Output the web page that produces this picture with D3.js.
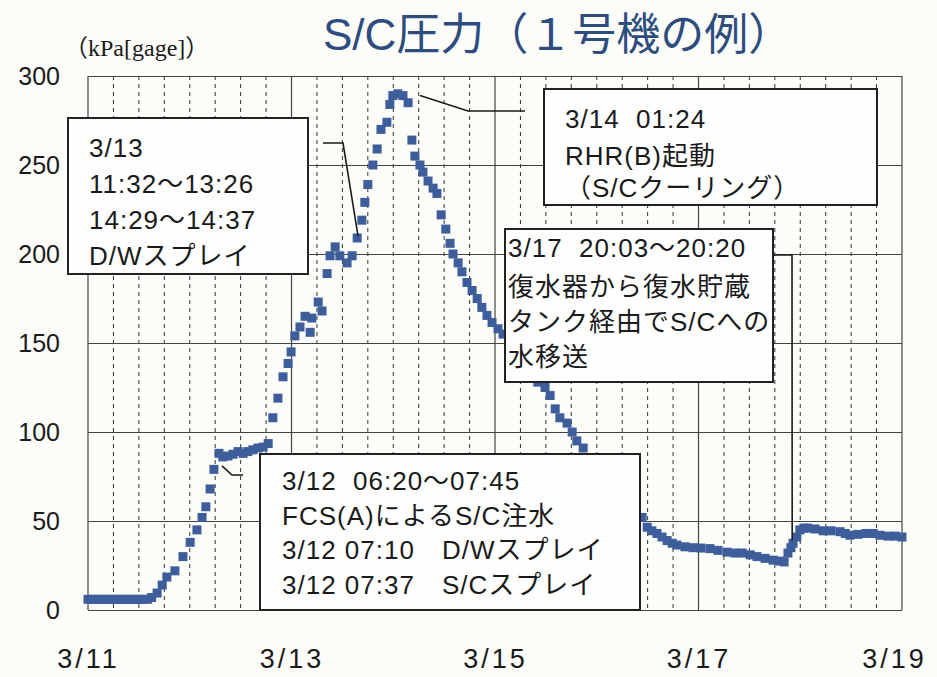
<!DOCTYPE html>
<html>
<head>
<meta charset="utf-8">
<script src="https://cdn.jsdelivr.net/npm/d3@7"></script>
<style>
  body { margin: 0; background: #fcfcf9; }
  svg { display: block; font-family: "Liberation Sans", "Noto Sans CJK JP", sans-serif; }
  text { white-space: pre; }
</style>
</head>
<body>
<div class="chart"></div>
<script>
// hours elapsed since 3/11 00:00, and S/C pressure (kPa gage)
const HOURS = [
  0, 1, 2, 3, 4, 5, 6, 7, 8, 9, 10, 11, 12, 13, 14, 15,
  16.3, 17.5, 18.6, 20.5, 22.4, 24.1, 25.7, 26.9, 27.8, 28.8, 29.7,
  30.9, 31.8, 33.0, 34.2, 35.4, 36.6, 37.7, 38.9, 40.1, 41.3, 42.5,
  43.6, 44.8, 46.0, 47.2, 47.9, 48.8, 50.0, 51.2, 52.4, 52.8, 54.3, 55.2,
  56.4, 57.1, 58.3, 59.4, 61.1, 62.3, 63.5, 64.6, 65.3, 66.0, 67.2, 68.2, 69.1,
  70.5, 71.2, 71.9, 73.1, 74.3, 75.5, 76.4, 77.1, 78.3, 79.0, 80.2, 81.4, 82.3,
  83.3, 84.4, 85.4, 86.1, 87.3, 88.2, 89.4, 90.6, 91.8, 92.9, 94.1, 95.3, 96.7,
  97.9, 99.5, 101.2, 102.8, 104.5, 106.1, 107.8, 109.0, 110.2, 111.3, 113.0,
  114.2, 115.3, 116.8, 118.9, 121.0, 123.1, 125.3, 127.4, 129.3, 130.7, 131.9,
  133.0, 134.2, 135.4, 136.6, 137.8, 138.9, 140.8, 142.7, 144.6, 146.7, 148.6,
  150.7, 152.6, 154.3, 156.2, 157.8, 159.7, 161.6, 163.2, 164.2, 165.1, 165.8,
  166.3, 167.2, 167.9, 168.9, 169.8, 171.5, 173.4, 175.3, 177.4, 178.6, 179.7,
  181.6, 183.5, 185.2, 186.8, 188.7, 190.4, 192.0
];
const PRESSURE = [
  6, 6, 6, 6, 6, 6, 6, 6, 6, 6, 6, 6, 6, 6, 6, 7,
  9.5, 14, 18.5, 22, 30, 38, 45, 52, 58, 68, 79,
  88, 86, 86.5, 87.5, 89, 88, 89, 90, 91, 91.5, 93.5,
  108, 119, 131, 138.5, 145, 154, 159, 165, 156, 164, 173, 168,
  189, 199, 204, 199, 195, 199, 209, 219, 229, 239, 250, 259, 270,
  274, 284, 289, 290, 289, 285, 264, 255, 250, 246, 241, 237, 234,
  222, 214, 206, 200, 195, 190, 184, 179.5, 175, 170, 165.5, 161.5, 158,
  155, 149, 142, 137, 132, 128, 125, 120.5, 113, 108, 105,
  100, 95, 91, 84, 77, 70, 64, 59, 55, 52, 46.5,
  44.5, 43, 41, 39, 37.5, 36.5, 35.5, 35, 34.8, 34.5, 33.5,
  32.5, 32, 32, 31, 30, 29, 28, 27.5, 27, 32, 35,
  37.5, 41, 45, 46, 46, 45.5, 44.5, 44.5, 44, 43, 42,
  42.5, 43, 43, 42, 41.5, 41.5, 41
];
const Y_TICKS = [0, 50, 100, 150, 200, 250, 300];
const X_LABELS = ["3/11", "3/13", "3/15", "3/17", "3/19"];

const TITLE = "S/C圧力（１号機の例）";
const UNIT = "（kPa[gage]）";
const NOTE_313 = ["3/13", "11:32～13:26", "14:29～14:37", "D/Wスプレイ"];
const NOTE_314 = ["3/14  01:24", "RHR(B)起動", "（S/Cクーリング）"];
const NOTE_317 = ["3/17  20:03～20:20", "復水器から復水貯蔵", "タンク経由でS/Cへの", "水移送"];
const NOTE_312 = ["3/12  06:20～07:45", "FCS(A)によるS/C注水", "3/12 07:10　D/Wスプレイ", "3/12 07:37　S/Cスプレイ"];

const WIDTH = 937, HEIGHT = 677;
const LEFT = 88, RIGHT = 902, TOP = 76, BOTTOM = 610;
const START = new Date(2011, 2, 11);
const END = new Date(2011, 2, 19);
const toDate = h => new Date(START.getTime() + h * 3600e3);

const data = HOURS.map((h, i) => ({ t: toDate(h), v: PRESSURE[i] }));

const svg = d3.select(".chart").append("svg").attr("width", WIDTH).attr("height", HEIGHT);

const x = d3.scaleTime().domain([START, END]).range([LEFT, RIGHT]);
const y = d3.scaleLinear().domain([0, 300]).range([BOTTOM, TOP]);

// dashed grid every 6 hours
const sixHours = d3.timeHour.every(6).range(START, END).filter(d => d.getHours() !== 0 || d.getDate() % 2 === 0);
svg.append("g")
  .selectAll("line").data(sixHours.filter(d => d > START)).enter().append("line")
  .attr("x1", d => x(d)).attr("x2", d => x(d))
  .attr("y1", TOP).attr("y2", BOTTOM)
  .attr("stroke", "#333").attr("stroke-width", 1).attr("stroke-dasharray", "4,4");

// solid grid every 2 days
const twoDays = X_LABELS.map((_, i) => d3.timeDay.offset(START, i * 2));
svg.append("g")
  .selectAll("line").data(twoDays).enter().append("line")
  .attr("x1", d => x(d)).attr("x2", d => x(d))
  .attr("y1", TOP).attr("y2", BOTTOM)
  .attr("stroke", "#444").attr("stroke-width", 1.2);

// horizontal grid + y labels
const yAxis = svg.append("g")
  .attr("transform", `translate(${LEFT}, 0)`)
  .call(d3.axisLeft(y).tickValues(Y_TICKS).tickSize(-(RIGHT - LEFT)).tickPadding(28));
yAxis.select(".domain").remove();
yAxis.selectAll(".tick line").attr("stroke", "#444").attr("stroke-width", 1.2);
yAxis.selectAll(".tick text")
  .attr("fill", "#1a1a1a")
  .style("font-size", "25px")
  .style("font-family", "Liberation Sans, sans-serif");

// x labels
const xAxis = svg.append("g")
  .attr("transform", `translate(0, ${BOTTOM})`)
  .call(d3.axisBottom(x).tickValues(twoDays).tickSize(0).tickPadding(0)
    .tickFormat((d, i) => X_LABELS[i]));
xAxis.select(".domain").remove();
xAxis.selectAll(".tick text")
  .attr("y", 58)
  .attr("dy", 0)
  .attr("fill", "#1a1a1a")
  .style("font-size", "27px")
  .style("letter-spacing", "3px")
  .style("font-family", "Liberation Sans, sans-serif");
xAxis.selectAll(".tick:last-of-type text").attr("dx", -8);

// markers
svg.append("g")
  .selectAll("rect").data(data).enter().append("rect")
  .attr("x", d => x(d.t) - 4.5)
  .attr("y", d => y(d.v) - 4.5)
  .attr("width", 9).attr("height", 9)
  .attr("fill", "#3e5e9b");

// title and unit
svg.append("text")
  .attr("x", 323).attr("y", 50)
  .attr("fill", "#2d4d7e")
  .style("font-size", "44px")
  .text(TITLE);

svg.append("text")
  .attr("x", 64).attr("y", 56)
  .attr("fill", "#1a1a1a")
  .style("font-family", "Liberation Serif, Noto Sans CJK JP, serif")
  .style("font-size", "24px")
  .text(UNIT);

// callout boxes
function note(lines, box, textX, baselines) {
  svg.append("rect")
    .attr("x", box[0]).attr("y", box[1])
    .attr("width", box[2]).attr("height", box[3])
    .attr("fill", "#fefefe").attr("stroke", "#222").attr("stroke-width", 2);
  const t = svg.append("text")
    .attr("fill", "#1a1a1a")
    .style("font-size", "26px")
    .style("letter-spacing", "1px");
  lines.forEach((line, i) => {
    t.append("tspan").attr("x", textX).attr("y", baselines[i]).text(line);
  });
}

function connector(points) {
  svg.append("path")
    .attr("d", d3.line()(points))
    .attr("fill", "none").attr("stroke", "#1a1a1a").attr("stroke-width", 1.6);
}

note(NOTE_313, [68, 118, 240, 156], 89, [157, 193, 229, 265]);
connector([[323, 143], [343, 143], [x(toDate(63.7)), y(210)]]);

note(NOTE_314, [544, 89, 333, 116], 565, [128, 165, 197]);
connector([[x(toDate(78.3)), y(289)], [468, 111], [525, 111]]);

note(NOTE_317, [505, 229, 268, 153], 508, [257, 296, 331, 366]);
connector([[773, 255], [792, 255], [x(toDate(166.1)), y(39)]]);

note(NOTE_312, [260, 454, 380, 156], 282, [490, 525, 559, 594]);
connector([[x(toDate(31.6)), y(81)], [232, 475], [243, 475]]);
</script>
</body>
</html>
